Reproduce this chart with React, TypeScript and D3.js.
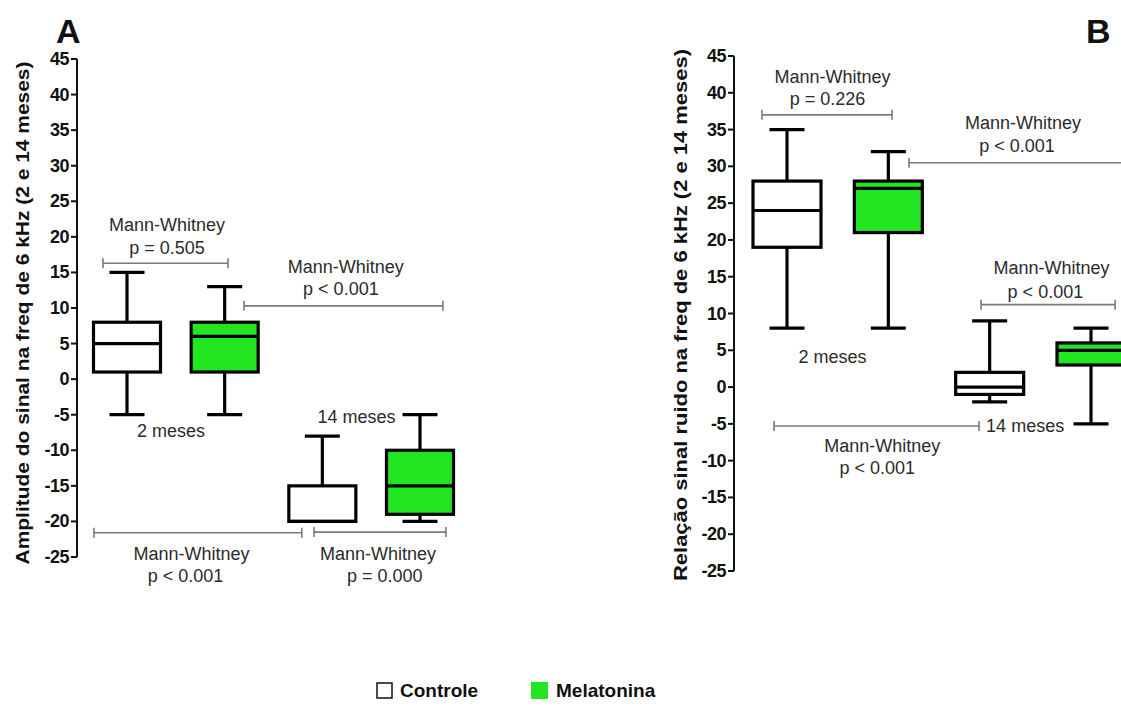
import React from "react";
import * as d3 from "d3";

// ---------- Data ----------
const groups = ["Controle 2 meses", "Melatonina 2 meses", "Controle 14 meses", "Melatonina 14 meses"];
const groupKind = ["Controle", "Melatonina", "Controle", "Melatonina"];
const yTicks = [45, 40, 35, 30, 25, 20, 15, 10, 5, 0, -5, -10, -15, -20, -25];

// Panel A: Amplitude do sinal (min, q1, median, q3, max)
const ampMin = [-5, -5, -20, -20];
const ampQ1 = [1, 1, -20, -19];
const ampMed = [5, 6, -20, -15];
const ampQ3 = [8, 8, -15, -10];
const ampMax = [15, 13, -8, -5];

// Panel B: Relação sinal ruido
const snrMin = [8, 8, -2, -5];
const snrQ1 = [19, 21, -1, 3];
const snrMed = [24, 27, 0, 5];
const snrQ3 = [28, 28, 2, 6];
const snrMax = [35, 32, 9, 8];

// Comparison brackets: [x1 (group units), x2, y (value units)]
const ampBrackets = [
  [0.754, 2.034, 16.3],
  [2.198, 4.235, 10.3],
  [0.662, 2.79, -21.6],
  [2.915, 4.266, -21.5],
];
const ampTexts: [string, number, number][] = [
  ["Mann-Whitney", 1.41, 21.7],
  ["p = 0.505", 1.41, 18.4],
  ["Mann-Whitney", 3.24, 15.8],
  ["p < 0.001", 3.19, 12.7],
  ["Mann-Whitney", 1.66, -24.6],
  ["p < 0.001", 1.6, -27.7],
  ["Mann-Whitney", 3.57, -24.6],
  ["p = 0.000", 3.64, -27.7],
  ["2 meses", 1.45, -7.3],
  ["14 meses", 3.35, -5.3],
];
const snrBrackets = [
  [0.753, 2.037, 37.0],
  [2.204, 4.4, 30.5],
  [2.915, 4.238, 11.2],
  [0.872, 2.895, -5.3],
];
const snrTexts: [string, number, number][] = [
  ["Mann-Whitney", 1.45, 42.1],
  ["p = 0.226", 1.4, 39.2],
  ["Mann-Whitney", 3.33, 35.9],
  ["p < 0.001", 3.27, 32.8],
  ["Mann-Whitney", 3.61, 16.2],
  ["p < 0.001", 3.55, 12.9],
  ["Mann-Whitney", 1.94, -8.0],
  ["p < 0.001", 1.89, -11.0],
  ["2 meses", 1.45, 4.1],
  ["14 meses", 3.35, -5.3],
];

const GREEN = "#22e622";
const FONT = "'Liberation Sans', Arial, sans-serif";

type PanelProps = {
  mins: number[]; q1: number[]; med: number[]; q3: number[]; maxs: number[];
  brackets: number[][]; texts: [string, number, number][];
  axisX: number; yTop: number; yBottom: number; x1: number; x4: number;
  boxW: number; title: string; titleX: number; titleLen: number; titleCY: number;
  letter: string; letterX: number;
};

function Panel(p: PanelProps) {
  const y = d3.scaleLinear().domain([45, -25]).range([p.yTop, p.yBottom]);
  const x = d3.scaleLinear().domain([1, 4]).range([p.x1, p.x4]);
  const capW = 35;
  return (
    <g>
      <text x={p.letterX} y={43} fontFamily={FONT} fontWeight="bold" fontSize={34} fill="#111">{p.letter}</text>
      <text
        transform={`translate(${p.titleX},${p.titleCY}) rotate(-90)`}
        textAnchor="middle" dominantBaseline="central"
        fontFamily={FONT} fontWeight="bold" fontSize={19} fill="#111"
        textLength={p.titleLen} lengthAdjust="spacingAndGlyphs"
      >{p.title}</text>
      {/* axis */}
      <line x1={p.axisX} x2={p.axisX} y1={y(45)} y2={y(-25)} stroke="#111" strokeWidth={2} />
      {yTicks.map((t) => (
        <g key={t}>
          <line x1={p.axisX - 6} x2={p.axisX} y1={y(t)} y2={y(t)} stroke="#111" strokeWidth={2} />
          <text x={p.axisX - 8} y={y(t)} textAnchor="end" dominantBaseline="central"
            fontFamily={FONT} fontWeight="bold" fontSize={18} letterSpacing={-0.5} fill="#111">{t}</text>
        </g>
      ))}
      {/* brackets */}
      {p.brackets.map((b, i) => (
        <g key={i} stroke="#7a7a7a" strokeWidth={1.6}>
          <line x1={x(b[0])} x2={x(b[1])} y1={y(b[2])} y2={y(b[2])} />
          <line x1={x(b[0])} x2={x(b[0])} y1={y(b[2]) - 5} y2={y(b[2]) + 5} />
          <line x1={x(b[1])} x2={x(b[1])} y1={y(b[2]) - 5} y2={y(b[2]) + 5} />
        </g>
      ))}
      {p.texts.map(([s, gx, v], i) => (
        <text key={i} x={x(gx)} y={y(v)} textAnchor="middle" dominantBaseline="central"
          fontFamily={FONT} fontSize={18} fill="#2b2b2b">{s}</text>
      ))}
      {/* boxes */}
      {groups.map((g, i) => {
        const cx = x(i + 1);
        const fill = groupKind[i] === "Melatonina" ? GREEN : "#fff";
        return (
          <g key={g} stroke="#000" strokeWidth={3.2} fill="none">
            <line x1={cx} x2={cx} y1={y(p.maxs[i])} y2={y(p.q3[i])} />
            <line x1={cx} x2={cx} y1={y(p.q1[i])} y2={y(p.mins[i])} />
            <line x1={cx - capW / 2} x2={cx + capW / 2} y1={y(p.maxs[i])} y2={y(p.maxs[i])} />
            <line x1={cx - capW / 2} x2={cx + capW / 2} y1={y(p.mins[i])} y2={y(p.mins[i])} />
            <rect x={cx - p.boxW / 2} width={p.boxW} y={y(p.q3[i])} height={y(p.q1[i]) - y(p.q3[i])} fill={fill} />
            <line x1={cx - p.boxW / 2} x2={cx + p.boxW / 2} y1={y(p.med[i])} y2={y(p.med[i])} />
          </g>
        );
      })}
    </g>
  );
}

export default function App() {
  return (
    <svg width={1121} height={709} style={{ position: "absolute", left: 0, top: 0, background: "#fff" }}>
      <rect width={1121} height={709} fill="#fff" />
      <Panel mins={ampMin} q1={ampQ1} med={ampMed} q3={ampQ3} maxs={ampMax}
        brackets={ampBrackets} texts={ampTexts}
        axisX={77} yTop={59} yBottom={557} x1={127} x4={420} boxW={67}
        title="Amplitude do sinal na freq de 6 kHz (2 e 14 meses)" titleX={22} titleLen={503} titleCY={313}
        letter="A" letterX={56} />
      <Panel mins={snrMin} q1={snrQ1} med={snrMed} q3={snrQ3} maxs={snrMax}
        brackets={snrBrackets} texts={snrTexts}
        axisX={734} yTop={56} yBottom={571} x1={787} x4={1091} boxW={68}
        title="Relação sinal ruido na freq de 6 kHz (2 e 14 meses)" titleX={680} titleLen={532} titleCY={315}
        letter="B" letterX={1086} />
      {/* legend */}
      <g fontFamily={FONT} fontWeight="bold" fontSize={19} fill="#111">
        <rect x={377} y={683} width={15} height={15} fill="#fff" stroke="#111" strokeWidth={1.5} />
        <text x={400} y={697}>Controle</text>
        <rect x={531} y={682} width={17} height={17} fill={GREEN} />
        <text x={556} y={697}>Melatonina</text>
      </g>
    </svg>
  );
}
